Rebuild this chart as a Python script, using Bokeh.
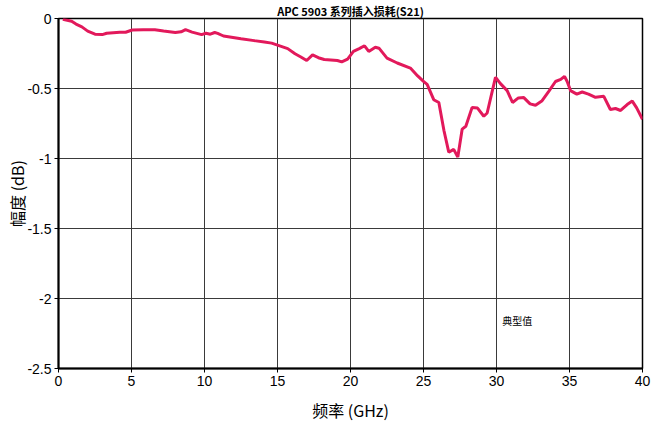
from bokeh.plotting import figure
from bokeh.models import Range1d, Label, FixedTicker
from bokeh.embed import file_html
from bokeh.resources import INLINE

title_text = "APC 5903 系列插入损耗(S21)"
x_label = "频率 (GHz)"
y_label = "幅度 (dB)"
note_text = "典型值"

x_ticks = [0, 5, 10, 15, 20, 25, 30, 35, 40]
x_tick_labels = ["0", "5", "10", "15", "20", "25", "30", "35", "40"]
y_ticks = [0, -0.5, -1, -1.5, -2, -2.5]
y_tick_labels = ["0", "-0.5", "-1", "-1.5", "-2", "-2.5"]

freq_ghz = [0.3, 0.9, 1.2, 1.6, 2.0, 2.5, 3.0, 3.3, 4.2, 4.6, 5.05, 5.8, 6.6, 7.2, 8.0,
            8.4, 8.7, 9.15, 9.8, 10.1, 10.4, 10.7, 10.9, 11.3, 12.5, 13.4, 14.1, 14.6,
            15.0, 15.7, 16.2, 16.6, 17.0, 17.4, 17.8, 18.2, 19.1, 19.4, 19.8, 20.2,
            20.6, 20.96, 21.25, 21.7, 21.95, 22.5, 23.2, 24.1, 24.6, 25.0, 25.25, 25.7,
            26.05, 26.4, 26.73, 27.07, 27.35, 27.65, 27.9, 28.33, 28.7, 29.13, 29.36,
            29.93, 30.27, 30.73, 31.1, 31.5, 31.87, 32.3, 32.67, 33.1, 33.58, 34.04,
            34.4, 34.66, 34.84, 35.07, 35.5, 35.87, 36.3, 36.78, 37.35, 37.8, 38.15,
            38.5, 38.95, 39.3, 39.6, 40.0]
loss_db = [-0.005, -0.02, -0.04, -0.06, -0.09, -0.112, -0.115, -0.105, -0.098, -0.098,
           -0.082, -0.08, -0.081, -0.09, -0.1, -0.095, -0.08, -0.097, -0.115, -0.105,
           -0.112, -0.1, -0.106, -0.125, -0.145, -0.158, -0.168, -0.176, -0.19, -0.215,
           -0.252, -0.275, -0.3, -0.26, -0.28, -0.293, -0.3, -0.31, -0.29, -0.235,
           -0.215, -0.195, -0.235, -0.205, -0.212, -0.283, -0.318, -0.354, -0.41, -0.449,
           -0.47, -0.58, -0.60, -0.80, -0.955, -0.935, -0.99, -0.79, -0.77, -0.635,
           -0.64, -0.698, -0.675, -0.42, -0.465, -0.515, -0.6, -0.567, -0.565, -0.61,
           -0.62, -0.59, -0.52, -0.45, -0.435, -0.413, -0.45, -0.515, -0.54, -0.525,
           -0.54, -0.563, -0.556, -0.65, -0.643, -0.657, -0.615, -0.59, -0.638, -0.72]

W, H = 654, 427
p = figure(width=W, height=H, output_backend="svg", toolbar_location=None,
           x_range=Range1d(0, 40), y_range=Range1d(-2.5, 0),
           min_border_left=58, min_border_right=12, min_border_top=0, min_border_bottom=59)

p.title.text = title_text
p.title.align = "center"
p.title.text_font = "Noto Sans CJK SC"
p.title.text_font_style = "bold"
p.title.text_font_size = "11px"
p.title.text_color = "black"
p.title.standoff = 0
p.title.offset = 0

p.line(freq_ghz, loss_db, line_color="#E2195B", line_width=3)

for ax in (p.xaxis[0], p.yaxis[0]):
    ax.axis_line_color = "black"
    ax.axis_line_width = 2
    ax.major_tick_line_color = "black"
    ax.major_tick_out = 4
    ax.major_tick_in = 0
    ax.minor_tick_line_color = None
    ax.major_label_text_font = "Liberation Sans"
    ax.major_label_text_font_size = "14px"
    ax.major_label_text_color = "black"
    ax.axis_label_text_font = "Noto Sans CJK SC"
    ax.axis_label_text_font_size = "16px"
    ax.axis_label_text_font_style = "normal"
    ax.axis_label_text_color = "black"

p.xaxis[0].ticker = FixedTicker(ticks=x_ticks)
p.xaxis[0].major_label_overrides = {t: s for t, s in zip(x_ticks, x_tick_labels)}
p.xaxis[0].major_label_standoff = 3
p.xaxis[0].axis_label = x_label
p.xaxis[0].axis_label_standoff = 9

p.yaxis[0].ticker = FixedTicker(ticks=y_ticks)
p.yaxis[0].major_label_overrides = {t: s for t, s in zip(y_ticks, y_tick_labels)}
p.yaxis[0].major_label_standoff = 3
p.yaxis[0].axis_label = y_label
p.yaxis[0].axis_label_standoff = -5

p.xgrid.ticker = FixedTicker(ticks=x_ticks)
p.ygrid.ticker = FixedTicker(ticks=y_ticks)
p.grid.grid_line_color = "#3a3a3a"
p.grid.grid_line_width = 1
p.grid.grid_line_alpha = 1

p.outline_line_color = "black"
p.outline_line_width = 1.5
p.outline_line_alpha = 1
p.background_fill_color = "white"
p.border_fill_color = "white"

p.add_layout(Label(x=30.4, y=-2.158, text=note_text, text_align="left",
                   text_baseline="middle", text_font="Noto Sans CJK SC",
                   text_font_size="10px", text_color="black"))

open("out.html", "w").write(file_html(p, INLINE))
